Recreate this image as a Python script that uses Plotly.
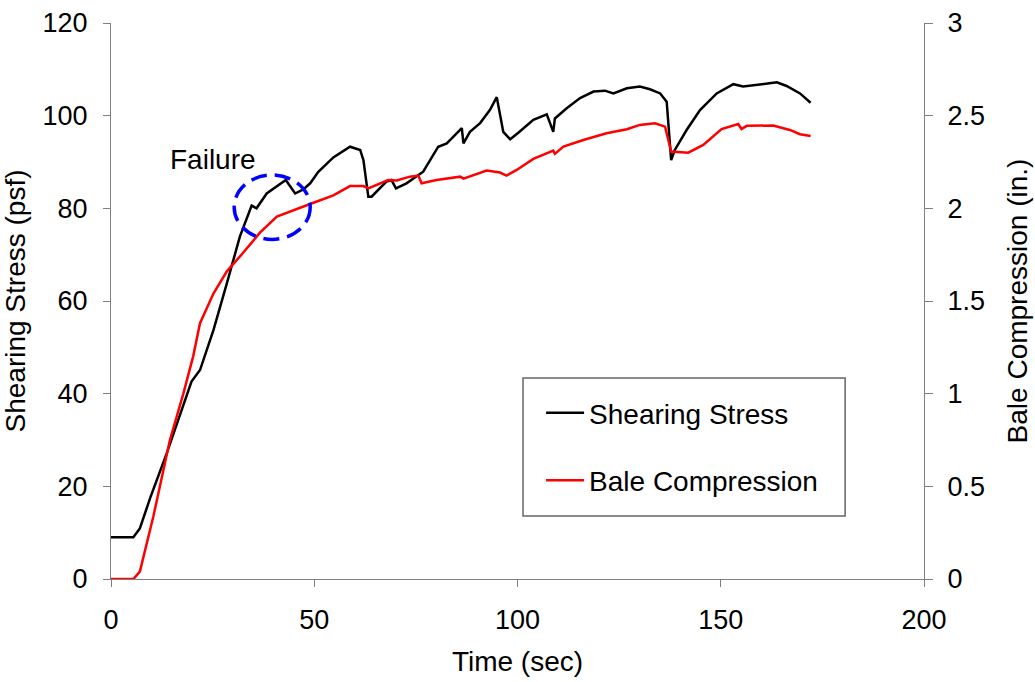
import plotly.graph_objects as go

# Shearing stress (psf) vs time (sec)
stress_time = [0, 5.5, 7.1, 9.6, 13.7, 17.8, 19.8, 21.9, 25.2, 28.5, 31.7, 34.6, 35.8, 38.3,
               40.8, 43.0, 45.3, 47.3, 49.0, 51.0, 54.7, 58.0, 58.8, 61.3, 62.1, 63.3, 64.1,
               67.8, 69.0, 70.1, 72.7, 76.8, 80.5, 82.6, 86.3, 86.7, 88.3, 90.8, 93.2, 94.9,
               96.5, 98.2, 100.2, 103.9, 107.2, 108.8, 109.2, 112.1, 115.4, 118.7, 121.5,
               123.6, 126.9, 130.1, 132.6, 135.1, 136.7, 137.8, 138.7, 141.6, 144.9, 149.0,
               153.1, 155.5, 159.6, 163.8, 166.2, 169.5, 172.1]
stress_psf = [9, 9, 10.9, 17.4, 27.1, 37.2, 42.6, 45.1, 53.7, 63.8, 73.9, 80.6, 80.0, 83.2,
              84.7, 86.1, 83.2, 84.1, 85.4, 87.9, 91.0, 93.0, 93.3, 92.6, 90.4, 82.5, 82.5,
              85.8, 86.1, 84.3, 85.4, 87.9, 93.3, 94.0, 97.3, 94.0, 96.5, 98.4, 101.2, 104.0,
              96.5, 94.9, 96.3, 99.1, 100.3, 96.5, 99.4, 101.6, 103.8, 105.2, 105.4,
              104.8, 105.9, 106.3, 105.7, 104.8, 103.0, 90.4, 92.6, 96.9, 101.2, 104.8,
              106.8, 106.3, 106.8, 107.2, 106.4, 104.8, 102.8]

# Bale compression (in.) vs time (sec)
comp_time = [0, 5.5, 7.1, 10.4, 14.5, 17.8, 20.2, 21.9, 25.2, 28.5, 32.5, 36.7, 40.8, 44.8,
             49.8, 54.7, 58.8, 62.1, 63.3, 68.2, 70.3, 73.5, 75.6, 76.4, 80.1, 85.9, 86.7,
             92.4, 95.7, 97.3, 99.8, 103.9, 108.8, 109.2, 111.3, 116.2, 121.9, 126.9, 130.1,
             133.8, 136.3, 137.8, 142.0, 145.7, 150.2, 154.3, 155.1, 156.4, 162.9, 167.0,
             169.5, 172.1]
comp_in = [0, 0, 0.04, 0.336, 0.75, 1.00, 1.20, 1.38, 1.54, 1.66, 1.76, 1.87, 1.955, 1.99,
           2.03, 2.07, 2.12, 2.12, 2.108, 2.153, 2.15, 2.171, 2.177, 2.135, 2.153, 2.171, 2.16,
           2.204, 2.193, 2.177, 2.207, 2.267, 2.311, 2.294, 2.333, 2.369, 2.405, 2.427, 2.45,
           2.459, 2.441, 2.306, 2.30, 2.342, 2.428, 2.455, 2.428, 2.445, 2.447, 2.423,
           2.40, 2.39]

left_ticks = [0, 20, 40, 60, 80, 100, 120]
right_ticks = [0, 0.5, 1, 1.5, 2, 2.5, 3]
right_tick_labels = ["0", "0.5", "1", "1.5", "2", "2.5", "3"]
x_ticks = [0, 50, 100, 150, 200]

FONT = "Liberation Sans, Arial, sans-serif"
AX = "#808080"

fig = go.Figure()
fig.add_trace(go.Scatter(x=stress_time, y=stress_psf, mode="lines", name="Shearing Stress",
                         line=dict(color="#000000", width=2.5), legendgroup="a"))
fig.add_trace(go.Scatter(x=comp_time, y=comp_in, mode="lines", name="Bale Compression",
                         line=dict(color="#FF0000", width=2.5), yaxis="y2", legendgroup="b"))

# failure marker
fig.add_shape(type="circle", xref="x", yref="y", x0=30.3, x1=49.0, y0=73.3, y1=87.2,
              line=dict(color="#0000FF", width=3.5, dash="16px,8px"))
fig.add_annotation(x=25.0, y=90.6, xref="x", yref="y", text="Failure", showarrow=False,
                   font=dict(size=28, color="#000000", family=FONT))
# legend frame
fig.add_shape(type="rect", xref="paper", yref="paper", x0=0.5068, x1=0.903,
              y0=0.1133, y1=0.3615, line=dict(color="#666666", width=1.5),
              fillcolor="rgba(0,0,0,0)")

fig.update_layout(
    width=1035, height=682,
    margin=dict(l=111, r=111, t=23, b=103, autoexpand=False),
    paper_bgcolor="white", plot_bgcolor="white",
    font=dict(family=FONT, color="#000000", size=27),
    xaxis=dict(range=[0, 200], tickvals=x_ticks, showgrid=False, zeroline=False,
               showline=True, linecolor=AX, linewidth=1.2, ticks="outside", ticklen=7,
               tickcolor=AX, tickfont=dict(size=27), ticklabelstandoff=9,
               title=dict(text="Time (sec)", font=dict(size=28), standoff=17)),
    yaxis=dict(range=[0, 120], tickvals=left_ticks, showgrid=False, zeroline=False,
               showline=True, linecolor=AX, linewidth=1.2, ticks="outside", ticklen=7,
               tickcolor=AX, tickfont=dict(size=27), ticklabelstandoff=10,
               title=dict(text="Shearing Stress (psf)", font=dict(size=28), standoff=11)),
    yaxis2=dict(range=[0, 3], tickvals=right_ticks, ticktext=right_tick_labels,
                overlaying="y", side="right", showgrid=False, zeroline=False,
                showline=True, linecolor=AX, linewidth=1.2, ticks="outside", ticklen=8,
                tickcolor=AX, tickfont=dict(size=27), ticklabelstandoff=9,
                title=dict(text="Bale Compression (in.)", font=dict(size=28), standoff=23)),
    yaxis3=dict(range=[0, 3], tickvals=right_ticks, overlaying="y", side="right",
                anchor="x", showgrid=False, zeroline=False, showline=False,
                showticklabels=False, ticks="inside", ticklen=8, tickcolor=AX),
    legend=dict(x=0.529, y=0.3434, xanchor="left", yanchor="top",
                borderwidth=0, bgcolor="rgba(0,0,0,0)", itemwidth=38,
                font=dict(size=28), traceorder="grouped", tracegroupgap=28),
    showlegend=True,
)

fig.write_html("out.html", config={"displayModeBar": False},
               post_script="document.body.style.margin='0';document.body.style.overflow='hidden';")
